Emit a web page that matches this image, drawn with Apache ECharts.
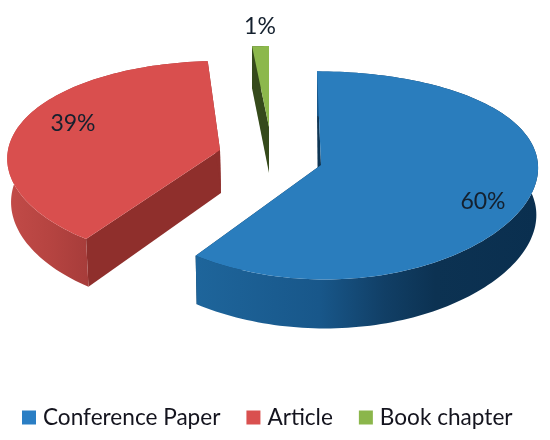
<!DOCTYPE html>
<html>
<head>
<meta charset="utf-8">
<style>html,body{margin:0;padding:0;background:#fff}#c{width:550px;height:440px}</style>
<script src="https://cdn.jsdelivr.net/npm/echarts@6/dist/echarts.min.js"></script>
</head>
<body>
<div id="c"></div>
<script>
var categories = ['Conference Paper', 'Article', 'Book chapter'];
var values = [60, 39, 1];

var topColors = ['#2a7dbd', '#d94f4e', '#8cb84c'];
var legendColors = ['#2a7ec4', '#d9504f', '#8bb64b'];
var edgeColors = ['#0e3554', '#8f2f2c', '#354a1b'];
var rimStops = [
  [[0, '#1e659b'], [0.36, '#18578a'], [0.55, '#113f66'], [0.7, '#0c3252'], [1, '#0a2f4f']],
  [[0, '#c24b48'], [0.5, '#b64441'], [1, '#a63c3a']],
  [[0, '#354a1b'], [1, '#354a1b']]
];
// Layout of each exploded slice: apex, radii, tilt and wall depth
var layouts = [
  { cx: 321, cy: 165, rx: 217, k: 103, p: 0.1, px: 0.01, shear: 4, d0: 47, d1: 2, shrink: 0.008, seam: -3, rim: [196, 538], label: [483, 202] },
  { cx: 220, cy: 150, rx: 212, k: 99.5, p: 0.118, px: 0.086, shear: 0, d0: 43, d1: 6, shrink: 0.018, seam: 1, rim: [8, 90], label: [73, 124] },
  { cx: 269, cy: 127, rx: 270, k: 89, p: 0.1, px: 0, shear: 0, d0: 46, d1: 4, shrink: 0, seam: 0, rim: [252, 269], label: [260, 27] }
];

var total = values.reduce(function (a, b) { return a + b; }, 0);

function project(g, theta, r) {
  var u = r * Math.sin(theta), v = -r * Math.cos(theta);
  return [
    g.cx + g.rx * u / (1 - g.px * v) + g.shear * v,
    g.cy + g.k * v / (1 - g.p * v),
    v
  ];
}
function lower(g, pt, extra) {
  return [pt[0] + (g.cx - pt[0]) * g.shrink + (extra || 0), pt[1] + g.d0 + g.d1 * pt[2]];
}

function sliceItem(i) {
  return function (params, api) {
    var g = layouts[i];
    var share = api.value(0) / total * 2 * Math.PI;
    var before = 0;
    for (var j = 0; j < i; j++) before += values[j];
    var a0 = before / total * 2 * Math.PI;
    var n = Math.max(4, Math.ceil(share / (Math.PI / 120)));
    var arc = [];
    for (var s = 0; s <= n; s++) arc.push(project(g, a0 + share * s / n, 1));
    var apex = project(g, 0, 0);
    var xy = function (p) { return [p[0], p[1]]; };
    var first = arc[0], last = arc[arc.length - 1];
    var wall = function (pt, seam) {
      return [xy(pt), xy(apex), lower(g, apex, seam), lower(g, pt)];
    };
    var rimPts = arc.map(xy).concat(arc.slice().reverse().map(function (p) { return lower(g, p); }));
    var children = [
      { type: 'polygon', shape: { points: wall(first, g.seam) }, style: { fill: edgeColors[i] } },
      { type: 'polygon', shape: { points: wall(last, g.seam) }, style: { fill: edgeColors[i] } },
      { type: 'polygon', shape: { points: rimPts }, style: {
          fill: new echarts.graphic.LinearGradient(g.rim[0], 0, g.rim[1], 0,
            rimStops[i].map(function (c) { return { offset: c[0], color: c[1] }; }), true) } },
      { type: 'polygon', shape: { points: arc.map(xy).concat([xy(apex)]) }, style: { fill: topColors[i] } },
      { type: 'text', style: {
          text: api.value(0) + '%', x: g.label[0], y: g.label[1],
          fontFamily: 'Lato', fontSize: 23, fill: '#14202e', align: 'center', verticalAlign: 'middle' } }
    ];
    return { type: 'group', children: children };
  };
}

var chart = echarts.init(document.getElementById('c'), null, { renderer: 'canvas' });
chart.setOption({
  backgroundColor: '#ffffff',
  animation: false,
  legend: {
    data: categories.slice(),
    left: 22, top: 406,
    padding: 0,
    icon: 'rect',
    itemWidth: 14, itemHeight: 14, itemGap: 26,
    selectedMode: false,
    textStyle: { fontFamily: 'Lato', fontSize: 22.6, color: '#14141e', padding: [0, 0, 0, 2] }
  },
  series: categories.map(function (name, i) {
    return {
      type: 'custom',
      name: name,
      coordinateSystem: 'none',
      renderItem: sliceItem(i),
      itemStyle: { color: legendColors[i] },
      data: [[values[i]]],
      z: i === 2 ? 3 : 2
    };
  })
});
</script>
</body>
</html>
